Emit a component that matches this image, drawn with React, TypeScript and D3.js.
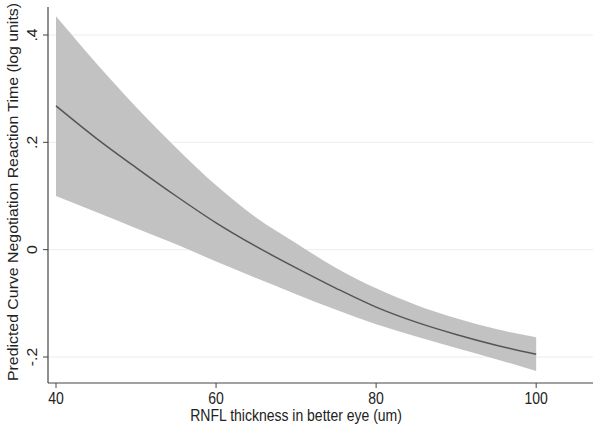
import React, { useRef, useEffect } from "react";
import * as d3 from "d3";

// RNFL thickness (um) and predicted log reaction time with 95% CI
const rnfl = [40, 45, 50, 55, 60, 65, 70, 75, 80, 85, 90, 95, 100];
const predicted = [0.268, 0.208, 0.153, 0.100, 0.050, 0.006, -0.034, -0.072, -0.107, -0.135, -0.158, -0.178, -0.195];
const upper = [0.435, 0.348, 0.266, 0.190, 0.120, 0.060, 0.012, -0.034, -0.072, -0.103, -0.128, -0.148, -0.163];
const lower = [0.100, 0.070, 0.040, 0.010, -0.022, -0.053, -0.083, -0.112, -0.139, -0.162, -0.183, -0.204, -0.226];

const xTicks = [40, 60, 80, 100];
const yTicks = [-0.2, 0, 0.2, 0.4];
const yTickLabels = ["-.2", "0", ".2", ".4"];

const App: React.FC = () => {
  const svgRef = useRef<SVGSVGElement | null>(null);

  useEffect(() => {
    if (!svgRef.current) return;
    const width = 602;
    const height = 432;
    const left = 48, right = 593, top = 7, bottom = 383;

    const svg = d3.select(svgRef.current);
    svg.selectAll("*").remove();

    const x = d3.scaleLinear().domain([39, 107.1]).range([left, right]);
    const y = d3.scaleLinear().domain([-0.2, 0.4]).range([357, 35]);

    const font = "'Liberation Sans', Arial, Helvetica, sans-serif";

    // gridlines
    svg.append("g")
      .selectAll("line")
      .data(yTicks)
      .join("line")
      .attr("x1", left)
      .attr("x2", right)
      .attr("y1", d => y(d))
      .attr("y2", d => y(d))
      .attr("stroke", "#ececec")
      .attr("stroke-width", 1);

    const rows = rnfl.map((v, i) => ({ x: v, m: predicted[i], hi: upper[i], lo: lower[i] }));

    // confidence band
    const area = d3.area<any>()
      .x(d => x(d.x))
      .y0(d => y(d.lo))
      .y1(d => y(d.hi))
      .curve(d3.curveMonotoneX);
    svg.append("path")
      .datum(rows)
      .attr("d", area)
      .attr("fill", "#c2c2c2");

    // predicted line
    const line = d3.line<any>()
      .x(d => x(d.x))
      .y(d => y(d.m))
      .curve(d3.curveMonotoneX);
    svg.append("path")
      .datum(rows)
      .attr("d", line)
      .attr("fill", "none")
      .attr("stroke", "#555")
      .attr("stroke-width", 1.5);

    // axes
    svg.append("line")
      .attr("x1", left).attr("x2", left)
      .attr("y1", top).attr("y2", bottom)
      .attr("stroke", "#444").attr("stroke-width", 1.2);
    svg.append("line")
      .attr("x1", left).attr("x2", right)
      .attr("y1", bottom).attr("y2", bottom)
      .attr("stroke", "#444").attr("stroke-width", 1.2);

    // x ticks (image is slightly stretched vertically, so text is too)
    const xt = svg.append("g").selectAll("g").data(xTicks).join("g")
      .attr("transform", d => `translate(${x(d)},${bottom})`);
    xt.append("line").attr("y2", 5).attr("stroke", "#444");
    xt.append("text")
      .attr("transform", "translate(0,21) scale(1,1.13)")
      .attr("text-anchor", "middle")
      .attr("font-family", font)
      .attr("font-size", 14)
      .attr("fill", "#222")
      .text(d => String(d));

    // y ticks
    const yt = svg.append("g").selectAll("g").data(yTicks).join("g")
      .attr("transform", d => `translate(${left},${y(d)})`);
    yt.append("line").attr("x2", -5).attr("stroke", "#444");
    yt.append("text")
      .attr("transform", "translate(-11,0) rotate(-90) scale(1.13,1)")
      .attr("text-anchor", "middle")
      .attr("font-family", font)
      .attr("font-size", 14)
      .attr("fill", "#222")
      .text((_, i) => yTickLabels[i]);

    // titles
    svg.append("text")
      .attr("transform", `translate(${x(70)},421) scale(1,1.13)`)
      .attr("text-anchor", "middle")
      .attr("font-family", font)
      .attr("font-size", 14)
      .attr("fill", "#222")
      .text("RNFL thickness in better eye (um)");
    svg.append("text")
      .attr("transform", `translate(18,192) rotate(-90)`)
      .attr("text-anchor", "middle")
      .attr("font-family", font)
      .attr("font-size", 14)
      .attr("textLength", 378)
      .attr("lengthAdjust", "spacingAndGlyphs")
      .attr("fill", "#222")
      .text("Predicted Curve Negotiation Reaction Time (log units)");

    svg.attr("width", width).attr("height", height).attr("viewBox", `0 0 ${width} ${height}`);
  }, []);

  return (
    <svg ref={svgRef} style={{ position: "absolute", left: 0, top: 0, background: "#fff" }} />
  );
};

export default App;
